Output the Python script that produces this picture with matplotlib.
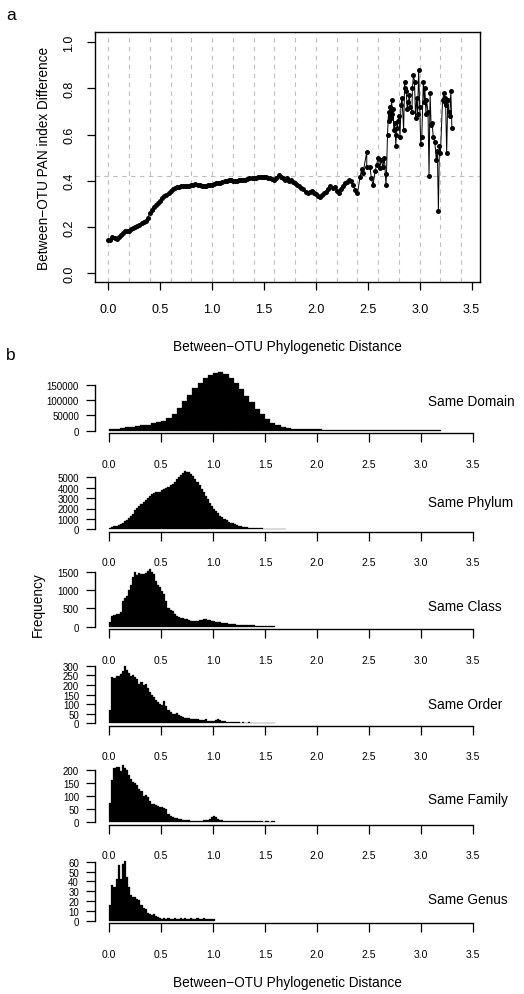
import numpy as np
import matplotlib
matplotlib.use("Agg")
import matplotlib.pyplot as plt

plt.rcParams["font.family"] = ["Liberation Sans", "DejaVu Sans"]

# ---- panel a: PAN index difference vs phylogenetic distance ----
dist_step = 0.02
pan_diff_smooth = [
    0.145, 0.142, 0.155, 0.150, 0.148, 0.158, 0.165, 0.172, 0.180, 0.184,
    0.180, 0.190, 0.196, 0.200, 0.205, 0.210, 0.216, 0.222, 0.225, 0.240,
    0.258, 0.272, 0.285, 0.295, 0.305, 0.314, 0.323, 0.332, 0.340, 0.348,
    0.355, 0.362, 0.367, 0.371, 0.374, 0.375, 0.376, 0.377, 0.378, 0.379,
    0.381, 0.383, 0.386, 0.382, 0.381, 0.378, 0.377, 0.379, 0.380, 0.381,
    0.383, 0.386, 0.388, 0.390, 0.392, 0.395, 0.398, 0.400, 0.402, 0.401,
    0.399, 0.398, 0.400, 0.401, 0.402, 0.403, 0.405, 0.407, 0.410, 0.412,
    0.410, 0.413, 0.415, 0.414, 0.416, 0.418, 0.414, 0.410, 0.412, 0.408,
    0.405, 0.410, 0.425, 0.418, 0.410, 0.405, 0.412, 0.400, 0.405, 0.395,
    0.390, 0.382, 0.375, 0.370, 0.362, 0.352, 0.345, 0.350, 0.355, 0.348,
    0.342, 0.335, 0.330, 0.338, 0.345, 0.352, 0.365, 0.375, 0.368, 0.372,
    0.355, 0.348, 0.365, 0.375, 0.390, 0.395, 0.405, 0.398, 0.380, 0.360,
    0.345,
]
dist_noisy = [
    2.425, 2.44, 2.455, 2.49, 2.49, 2.52, 2.535, 2.55, 2.57, 2.585,
    2.60, 2.615, 2.63, 2.645, 2.66, 2.675, 2.68, 2.69, 2.70, 2.72,
    2.73, 2.745, 2.76, 2.77, 2.785, 2.80, 2.81, 2.83, 2.845, 2.855,
    2.87, 2.88, 2.90, 2.91, 2.94, 2.95, 2.96, 2.97, 2.99, 3.00,
    3.01, 3.02, 3.035, 3.05, 3.065, 3.08, 3.09, 3.10, 3.11, 3.13,
    3.145, 3.16, 3.17, 3.18, 3.19, 3.20, 3.22, 3.235, 3.25, 3.26,
    3.27, 3.28, 3.30, 3.31,
    2.705, 2.715, 2.735, 2.75, 2.775, 2.79, 2.82, 2.86, 2.89, 2.925,
    2.93, 2.98, 3.045, 3.06, 3.12, 3.24, 3.245, 3.29,
]
pan_diff_noisy = [
    0.415, 0.45, 0.435, 0.526, 0.46, 0.46, 0.41, 0.38, 0.44, 0.47,
    0.50, 0.455, 0.49, 0.46, 0.50, 0.38, 0.43, 0.60, 0.70, 0.67,
    0.75, 0.71, 0.65, 0.55, 0.63, 0.68, 0.59, 0.76, 0.62, 0.83,
    0.79, 0.71, 0.77, 0.72, 0.86, 0.83, 0.67, 0.76, 0.88, 0.72,
    0.56, 0.59, 0.83, 0.80, 0.75, 0.70, 0.42, 0.78, 0.64, 0.59,
    0.57, 0.49, 0.53, 0.27, 0.55, 0.52, 0.75, 0.78, 0.73, 0.52,
    0.75, 0.70, 0.79, 0.63,
    0.66, 0.72, 0.69, 0.62, 0.60, 0.66, 0.73, 0.80, 0.74, 0.70,
    0.80, 0.69, 0.74, 0.69, 0.65, 0.74, 0.76, 0.68,
]
pan_ref_line = 0.42

# ---- panel b: histograms of pairwise distances by shared rank ----
rank_labels = ["Same Domain", "Same Phylum", "Same Class",
               "Same Order", "Same Family", "Same Genus"]
bin_widths = [0.05, 0.02, 0.02, 0.02, 0.02, 0.02]
domain_counts = [
    4000, 6500, 8500, 10500, 12500, 14500, 17000, 20000, 24000, 27000,
    31000, 40000, 55000, 75000, 97000, 118000, 138000, 156000, 171000, 182000,
    189000, 190000, 184000, 172000, 155000, 135000, 114000, 92000, 72000, 54000,
    38000, 26000, 18000, 12500, 9000, 7000, 6000, 5000, 4500, 4200,
    4000, 3800, 3600, 3500, 3300, 3200, 3100, 3000, 2900, 2800,
    2700, 2600, 2500, 2400, 2300, 2200, 2100, 2000, 1900, 1800,
    1700, 1600, 1500, 1400,
]
phylum_counts = [
    150, 230, 300, 360, 420, 520, 640, 800, 930, 1080,
    1250, 1450, 1900, 2050, 2200, 2450, 2650, 2850, 3050, 3250,
    3400, 3500, 3600, 3580, 3600, 3750, 3850, 3950, 4100, 4250,
    4350, 4550, 4800, 5050, 5250, 5400, 5600, 5550, 5500, 5350,
    5100, 4850, 4550, 4250, 3900, 3550, 3200, 2900, 2550, 2250,
    1980, 1750, 1520, 1320, 1150, 1000, 870, 750, 650, 560,
    480, 410, 350, 300, 260, 225, 195, 170, 150, 130,
    115, 100, 90, 80, 72, 65, 58, 52, 46, 42,
    38, 34, 30, 27, 24,
]
class_counts = [
    120, 300, 320, 340, 360, 400, 700, 780, 850, 1000,
    1150, 1350, 1500, 1420, 1460, 1430, 1450, 1470, 1530, 1580,
    1500, 1450, 1250, 1150, 1070, 980, 880, 700, 520, 460,
    420, 360, 300, 270, 250, 230, 210, 200, 180, 165,
    150, 145, 160, 180, 195, 205, 200, 190, 180, 165,
    150, 140, 130, 120, 110, 100, 92, 85, 78, 72,
    66, 60, 55, 50, 46, 43, 40, 38, 36, 34,
    32, 30, 28, 27, 25, 24, 23, 22, 21, 20,
]
order_counts = [
    70, 240, 235, 245, 248, 255, 275, 300, 280, 260,
    245, 250, 240, 230, 205, 215, 200, 205, 185, 165,
    150, 135, 120, 112, 100, 95, 118, 90, 70, 58,
    50, 48, 55, 45, 38, 34, 30, 28, 27, 25,
    23, 21, 20, 17, 16, 18, 20, 14, 12, 13,
    14, 17, 20, 15, 12, 10, 8, 7, 6, 6,
    5, 5, 5, 4, 5, 4, 4, 5, 4, 4,
    4, 3, 4, 4, 3, 3, 4, 3, 3, 3,
]
family_counts = [
    72, 160, 205, 210, 212, 196, 218, 205, 200, 180,
    165, 155, 150, 140, 128, 120, 100, 105, 95, 80,
    70, 68, 65, 62, 60, 58, 55, 50, 30, 25,
    20, 18, 15, 12, 11, 10, 9, 8, 7, 6,
    6, 6, 6, 5, 6, 7, 8, 10, 14, 19,
    25, 20, 14, 10, 8, 6, 5, 5, 5, 4,
    5, 5, 4, 5, 4, 4, 5, 4, 4, 4,
    5, 4, 4, 4, 3, 4, 4, 3, 4, 4,
]
genus_counts = [
    16, 36, 34, 42, 57, 42, 58, 61, 44, 34,
    26, 24, 24, 22, 21, 16, 13, 12, 8, 7,
    6, 7, 5, 4, 3, 2, 3, 2, 3, 2,
    2, 3, 2, 2, 3, 2, 3, 2, 2, 3,
    2, 2, 3, 2, 2, 3, 2, 2, 2, 2,
    2,
]
rank_counts = [domain_counts, phylum_counts, class_counts,
               order_counts, family_counts, genus_counts]
rank_yticks = [
    [0, 50000, 100000, 150000],
    [0, 1000, 2000, 3000, 4000, 5000],
    [0, 500, 1000, 1500],
    [0, 50, 100, 150, 200, 250, 300],
    [0, 50, 100, 150, 200],
    [0, 10, 20, 30, 40, 50, 60],
]
dist_ticks = [0.0, 0.5, 1.0, 1.5, 2.0, 2.5, 3.0, 3.5]

# ---- layout (pixel geometry of a 524 x 995 canvas) ----
W, H = 524, 995


def fx(px):
    return px / W


def fy(py):
    return 1 - py / H


fig = plt.figure(figsize=(W / 100, H / 100), dpi=100)

# panel a
ax = fig.add_axes([fx(95), fy(283), (480 - 95) / W, (283 - 33) / H])
x_smooth = np.arange(len(pan_diff_smooth)) * dist_step
order = np.argsort(dist_noisy)
x_all = np.concatenate([x_smooth, np.asarray(dist_noisy)[order]])
y_all = np.concatenate([pan_diff_smooth, np.asarray(pan_diff_noisy)[order]])

for gx in np.arange(0, 3.41, 0.2):
    ax.axvline(gx, color="#bdbdbd", linestyle=(0, (4, 4)), linewidth=0.8, zorder=0)
ax.axhline(pan_ref_line, color="#bdbdbd", linestyle=(0, (4, 4)), linewidth=0.8, zorder=0)
ax.plot(x_all, y_all, color="black", linewidth=0.7, zorder=2)
ax.plot(x_all, y_all, linestyle="none", marker="o", markersize=3.6,
        markerfacecolor="black", markeredgewidth=0, zorder=3)

ax.set_xlim((95 - 108.3) / 103.8, (480 - 108.3) / 103.8)
ax.set_ylim((274 - 283) / 230.7, (274 - 33) / 230.7)
ax.set_xticks(dist_ticks)
ax.set_xticklabels([f"{t:.1f}" for t in dist_ticks])
ax.set_yticks([0.0, 0.2, 0.4, 0.6, 0.8, 1.0])
ax.set_yticklabels(["0.0", "0.2", "0.4", "0.6", "0.8", "1.0"], rotation=90, va="center")
ax.tick_params(axis="both", direction="out", length=6, width=0.9, labelsize=9)
ax.tick_params(axis="x", pad=9)
ax.tick_params(axis="y", pad=8)
for s in ax.spines.values():
    s.set_linewidth(1.0)
ax.set_ylabel("Between\u2212OTU PAN index Difference", fontsize=9.8, labelpad=9)
fig.text(fx(287.5), fy(347), "Between\u2212OTU Phylogenetic Distance",
         ha="center", va="center", fontsize=9.8)
fig.text(fx(11), fy(15), "a", ha="center", va="center", fontsize=12.5)
fig.text(fx(11), fy(356), "b", ha="center", va="center", fontsize=12.5)

# panel b
zero_rows = [431.7, 530.3, 627.7, 724.3, 823.3, 921.7]
top_tick_rows = [385.7, 478.3, 572.7, 666.7, 770.7, 862.7]
label_rows = [402, 503, 607, 705, 800, 900]

for counts, bw, ticks, y0, yt, ly, name in zip(
        rank_counts, bin_widths, rank_yticks, zero_rows, top_tick_rows,
        label_rows, rank_labels):
    k = ticks[-1] / (y0 - yt)
    top_px, bot_px = y0 - 66, y0 + 2.5
    hax = fig.add_axes([fx(95), fy(bot_px), (480 - 95) / W, (bot_px - top_px) / H])
    hax.patch.set_visible(False)
    edges = np.arange(len(counts)) * bw
    hax.bar(edges, counts, width=bw, align="edge", color="black",
            edgecolor="black", linewidth=0.2)
    hax.set_xlim((95 - 109.3) / 103.8, (480 - 109.3) / 103.8)
    hax.set_ylim(-2.5 * k, 66 * k)
    for side in ("top", "right"):
        hax.spines[side].set_visible(False)
    hax.spines["left"].set_bounds(0, ticks[-1])
    hax.spines["bottom"].set_bounds(0, 3.5)
    for side in ("left", "bottom"):
        hax.spines[side].set_linewidth(1.0)
    hax.set_yticks(ticks)
    hax.set_yticklabels([str(t) for t in ticks])
    hax.set_xticks(dist_ticks)
    hax.set_xticklabels([f"{t:.1f}" for t in dist_ticks])
    hax.tick_params(axis="both", direction="out", length=6.5, width=0.9)
    hax.tick_params(axis="y", labelsize=7, pad=5)
    hax.tick_params(axis="x", labelsize=7.5, pad=12)
    fig.text(fx(428), fy(ly), name, ha="left", va="center", fontsize=9.8)

fig.text(fx(38), fy(605), "Frequency", rotation=90, ha="center", va="center",
         fontsize=9.8)
fig.text(fx(287.5), fy(983), "Between\u2212OTU Phylogenetic Distance",
         ha="center", va="center", fontsize=9.8)

fig.savefig("out.png", dpi=100)
